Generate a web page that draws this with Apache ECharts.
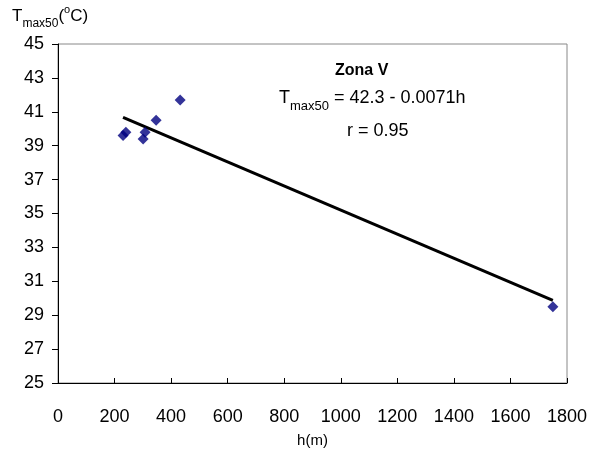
<!DOCTYPE html>
<html><head><meta charset="utf-8">
<script src="https://cdn.jsdelivr.net/npm/echarts@6/dist/echarts.min.js"></script>
<style>html,body{margin:0;padding:0;background:#fff}#c{width:594px;height:453px}</style>
</head><body><div id="c"></div>
<script>
const heights = [230, 240, 301, 308, 347, 432, 1750];
const tmax50 = [39.6, 39.8, 39.4, 39.8, 40.5, 41.7, 29.5];
const trendH = [230, 1750];
const trendT = [40.67, 29.88];
const xTicks = [0, 200, 400, 600, 800, 1000, 1200, 1400, 1600, 1800];
const yTicks = [25, 27, 29, 31, 33, 35, 37, 39, 41, 43, 45];

const F = '"Liberation Sans", Arial, sans-serif';
const chart = echarts.init(document.getElementById('c'));
chart.setOption({
  animation: false,
  backgroundColor: '#fff',
  grid: {left: 58, right: 27, top: 44, bottom: 69, show: true, borderColor: '#888', borderWidth: 1},
  xAxis: {
    type: 'value', min: xTicks[0], max: xTicks[xTicks.length-1], interval: 200,
    name: 'h(m)', nameLocation: 'middle', nameGap: 50,
    nameTextStyle: {fontFamily: F, fontSize: 15, color: '#000'},
    axisLine: {show: true, lineStyle: {color: '#000', width: 1}},
    axisTick: {show: true, inside: true, length: 5, lineStyle: {color: '#000'}},
    axisLabel: {fontFamily: F, fontSize: 18, color: '#000', margin: 25, formatter: v => String(v)},
    splitLine: {show: false}
  },
  yAxis: {
    type: 'value', min: yTicks[0], max: yTicks[yTicks.length-1], interval: 2,
    axisLine: {show: true, lineStyle: {color: '#000', width: 1}},
    axisTick: {show: true, inside: false, length: 6, lineStyle: {color: '#000'}},
    axisLabel: {fontFamily: F, fontSize: 18, color: '#000', margin: 14, formatter: v => String(v)},
    splitLine: {show: false}
  },
  graphic: [
    {type: 'text', left: 12, top: 4, style: {
      text: '{a|T}{b|max50}{a|(}{c|o}{a|C)}', fontFamily: F,
      rich: {
        a: {fontSize: 17, fontFamily: F, fill: '#000', verticalAlign: 'middle', lineHeight: 24},
        b: {fontSize: 12, fontFamily: F, fill: '#000', verticalAlign: 'bottom', lineHeight: 24, padding: [0,0,-2,0]},
        c: {fontSize: 11, fontFamily: F, fill: '#000', verticalAlign: 'top', lineHeight: 24}
      }}},
    {type: 'text', left: 335, top: 63, style: {text: 'Zona V', fontFamily: F, fontSize: 16, fontWeight: 'bold', fill: '#000'}},
    {type: 'text', left: 279, top: 89, style: {
      text: '{a|T}{b|max50}{a| = 42.3 - 0.0071h}', fontFamily: F,
      rich: {
        a: {fontSize: 18, fontFamily: F, fill: '#000', verticalAlign: 'middle', lineHeight: 26},
        b: {fontSize: 13, fontFamily: F, fill: '#000', verticalAlign: 'bottom', lineHeight: 26, padding: [0,0,-2,0]}
      }}},
    {type: 'text', left: 347, top: 122, style: {text: 'r = 0.95', fontFamily: F, fontSize: 18, fill: '#000'}}
  ],
  series: [
    {type: 'line', data: trendH.map((h,i)=>[h, trendT[i]]), symbol: 'none',
     lineStyle: {color: '#000', width: 3}, z: 2},
    {type: 'scatter', data: heights.map((h,i)=>[h, tmax50[i]]), symbol: 'diamond', symbolSize: 11,
     itemStyle: {color: '#000080'}, z: 3}
  ]
});
</script></body></html>
